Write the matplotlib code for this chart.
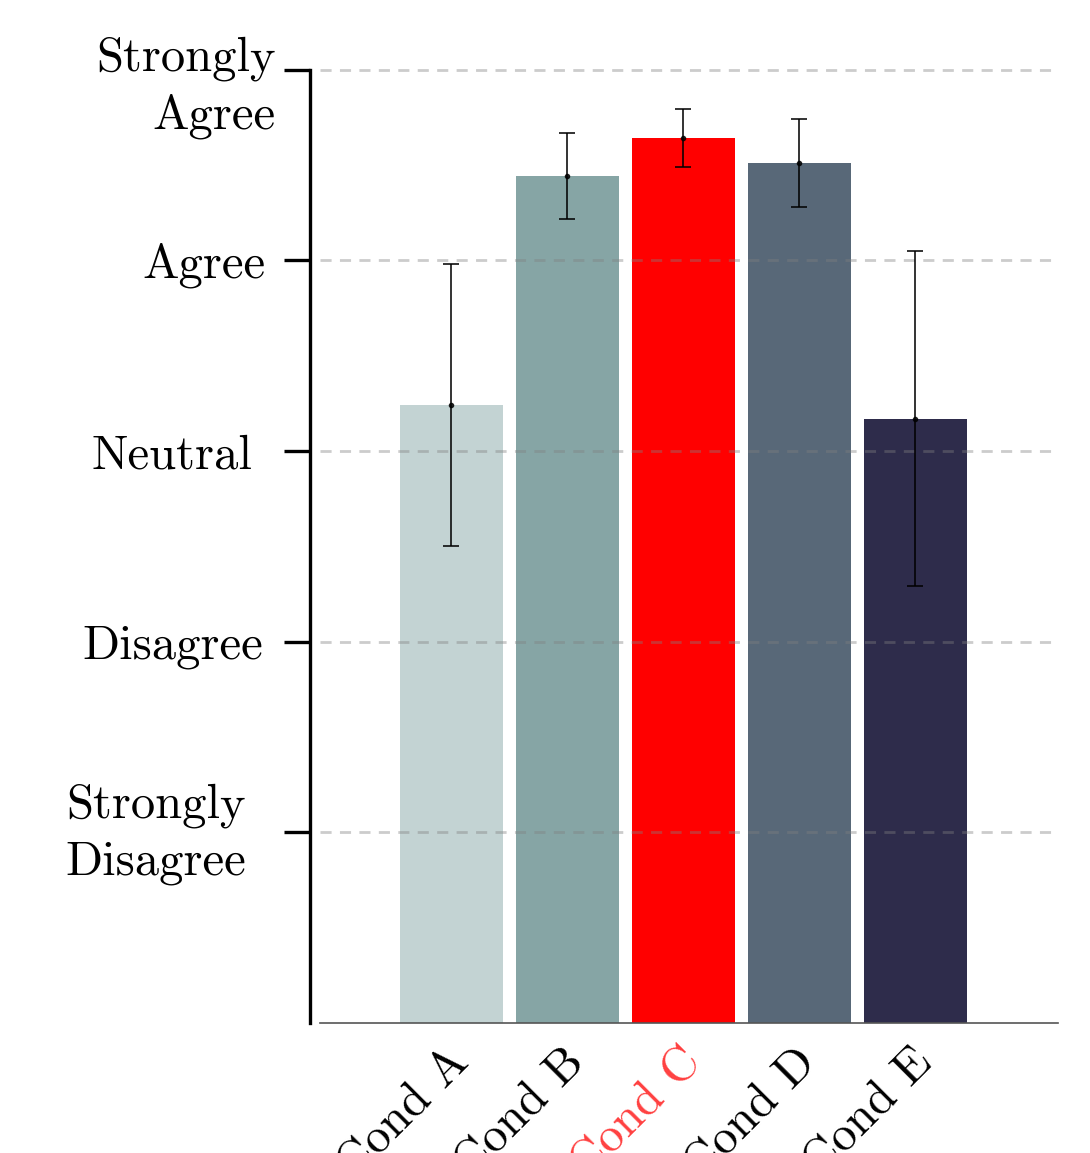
import matplotlib

matplotlib.use('Agg')
import matplotlib.pyplot as plt
import matplotlib.transforms as mtransforms
import numpy

plt.rcParams['font.family'] = 'cmr10'
plt.rcParams['axes.formatter.use_mathtext'] = True

conditions = ['Cond A', 'Cond B', 'Cond C', 'Cond D', 'Cond E']
means = [3.24, 4.44, 4.64, 4.51, 3.17]
errors = [0.74, 0.225, 0.152, 0.23, 0.88]
barColors = ['#c3d3d3', '#86a5a5', '#ff0000', '#586878', '#2e2c4b']
highlight = 'Cond C'

likertTicks = [1, 2, 3, 4, 5]
likertLabels = ['Strongly\nDisagree', 'Disagree', 'Neutral', 'Agree', 'Strongly\nAgree']
# small per-label nudges (pixels) for the y tick labels
labelShift = [(-29, 10), (-12, 0), (-23, 0), (-10, 0), (0, -7)]

fig = plt.figure(figsize=(10.9, 11.53), dpi=100)
ax = fig.add_axes([0.2936, 0.1127, 0.677, 0.870])

xPos = numpy.arange(len(conditions))
ax.bar(xPos, means, width=0.89, color=barColors, zorder=2)
ax.errorbar(xPos, means, yerr=errors, fmt='o', markersize=3, color='black', alpha=0.8,
            elinewidth=1.4, capsize=6, capthick=1.4, zorder=4)

# dashed guide lines at every Likert level, drawn over the bars
for t in likertTicks:
    ax.axhline(t, color='gray', alpha=0.4, linestyle=(0, (4, 3)), linewidth=2, zorder=3)

ax.set_xlim(-1.13, 5.23)
ax.set_ylim(0, 5.26)

ax.spines['top'].set_visible(False)
ax.spines['right'].set_visible(False)
ax.spines['left'].set_position(('outward', 7))
ax.spines['left'].set_bounds(0, 5)
ax.spines['left'].set_linewidth(2.4)
ax.spines['bottom'].set_color('#555555')
ax.spines['bottom'].set_linewidth(1.2)

ax.set_yticks(likertTicks)
ax.set_yticklabels(likertLabels, fontsize=35, linespacing=1.35)
ax.tick_params(axis='y', length=19, width=2.4, pad=6)
ax.get_yticklabels()[0].set_multialignment('center')
for lbl, (dx, dy) in zip(ax.get_yticklabels(), labelShift):
    lbl.set_transform(lbl.get_transform() +
                      mtransforms.ScaledTranslation(dx / 100.0, dy / 100.0, fig.dpi_scale_trans))

ax.set_xticks(xPos)
ax.set_xticklabels(conditions, fontsize=35, rotation=45, ha='right', rotation_mode='anchor')
ax.tick_params(axis='x', length=0, pad=12)
for lbl in ax.get_xticklabels():
    lbl.set_transform(lbl.get_transform() +
                      mtransforms.ScaledTranslation(-0.05, 0, fig.dpi_scale_trans))
    if lbl.get_text() == highlight:
        lbl.set_color('#ff4040')

plt.savefig('out.png', dpi=100)
